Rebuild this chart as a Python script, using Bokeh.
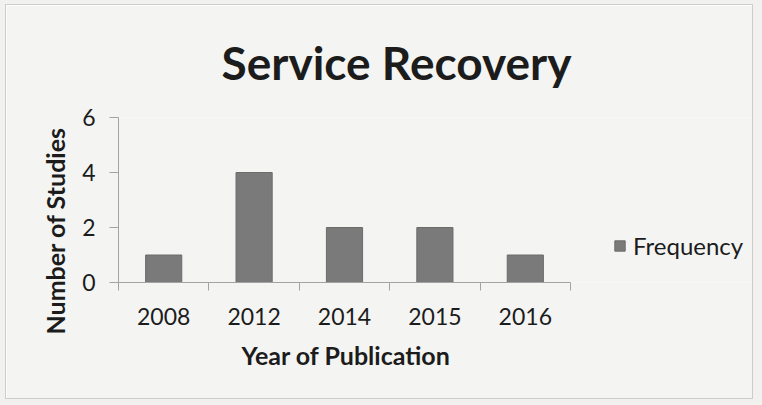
from bokeh.plotting import figure
from bokeh.models import (Range1d, FixedTicker, Legend, LegendItem,
                          Title, ColumnDataSource)
from bokeh.embed import file_html
from bokeh.resources import INLINE

# ---- data ----
years = ["2008", "2012", "2014", "2015", "2016"]
frequency = [1, 4, 2, 2, 1]
y_ticks = [0, 2, 4, 6]
series_name = "Frequency"
title_text = "Service Recovery"
x_title = "Year of Publication"
y_title = "Number of Studies"

FONT = "Lato"
TEXT = "#1c1c1c"
AXIS = "#a3a3a3"
BAR = "#7a7a7a"
BG = "#f4f5f3"

# layout: plot area of the bars is 452 px wide; the frame continues to the
# right so that the legend can sit inside it
AREA_W, FRAME_W, FRAME_H = 452, 634, 165
n = len(years)
centers = [i + 0.5 for i in range(n)]
src = ColumnDataSource(dict(x=centers, top=frequency, year=years))

p = figure(frame_width=FRAME_W, frame_height=FRAME_H,
           output_backend="svg", toolbar_location=None,
           x_range=Range1d(0, n * FRAME_W / AREA_W),
           y_range=Range1d(0, max(y_ticks)),
           min_border_left=112, min_border_right=0,
           min_border_top=112, min_border_bottom=116,
           margin=(5, 0, 0, 6))
p.styles = {"outline": "1px solid #cccccc",
            "box-shadow": "0 0 0 40px #f1f2f0"}
p.background_fill_color = BG
p.border_fill_color = BG
p.outline_line_color = None
p.grid.grid_line_color = None

r = p.vbar(x="x", top="top", width=0.4, source=src,
           fill_color=BAR, line_color="#6b6b6b", line_width=1)

# title
p.title.text = title_text
p.title.text_font = FONT
p.title.text_font_style = "bold"
p.title.text_font_size = "46px"
p.title.text_color = TEXT
p.title.align = "left"
p.title.offset = 103
p.title.standoff = 55

# x axis
xa = p.xaxis[0]
xa.bounds = (0, n)
xa.ticker = FixedTicker(ticks=centers, minor_ticks=list(range(n + 1)))
xa.major_label_overrides = {c: y for c, y in zip(centers, years)}
xa.major_tick_line_color = None
xa.major_tick_out = 0
xa.major_tick_in = 0
xa.minor_tick_line_color = AXIS
xa.minor_tick_out = 8
xa.minor_tick_in = 0
xa.axis_line_color = AXIS
xa.major_label_text_font = FONT
xa.major_label_text_font_size = "23px"
xa.major_label_text_color = TEXT
xa.major_label_standoff = 17

# y axis (ticks + numbers)
ya = p.yaxis[0]
ya.ticker = FixedTicker(ticks=y_ticks, minor_ticks=[])
ya.major_tick_line_color = AXIS
ya.major_tick_out = 9
ya.major_tick_in = 0
ya.minor_tick_line_color = None
ya.axis_line_color = AXIS
ya.major_label_text_font = FONT
ya.major_label_text_font_size = "23px"
ya.major_label_text_color = TEXT
ya.major_label_standoff = 14

# axis titles as side titles, positioned like the reference
p.add_layout(Title(text=x_title, align="left", offset=123, standoff=21,
                   text_font=FONT, text_font_style="bold",
                   text_font_size="25px", text_color=TEXT), "below")
p.add_layout(Title(text=y_title, align="left", offset=-52, standoff=20,
                   text_font=FONT, text_font_style="bold",
                   text_font_size="25px", text_color=TEXT), "left")

# legend
legend = Legend(items=[LegendItem(label=series_name, renderers=[r])],
                location=(495, 22), orientation="vertical",
                padding=0, margin=0, spacing=0,
                glyph_width=13, glyph_height=13, label_standoff=7,
                label_text_font=FONT, label_text_font_size="24px",
                label_text_color=TEXT,
                background_fill_alpha=0, border_line_color=None)
p.add_layout(legend, "center")

open("out.html", "w").write(file_html(p, INLINE))
